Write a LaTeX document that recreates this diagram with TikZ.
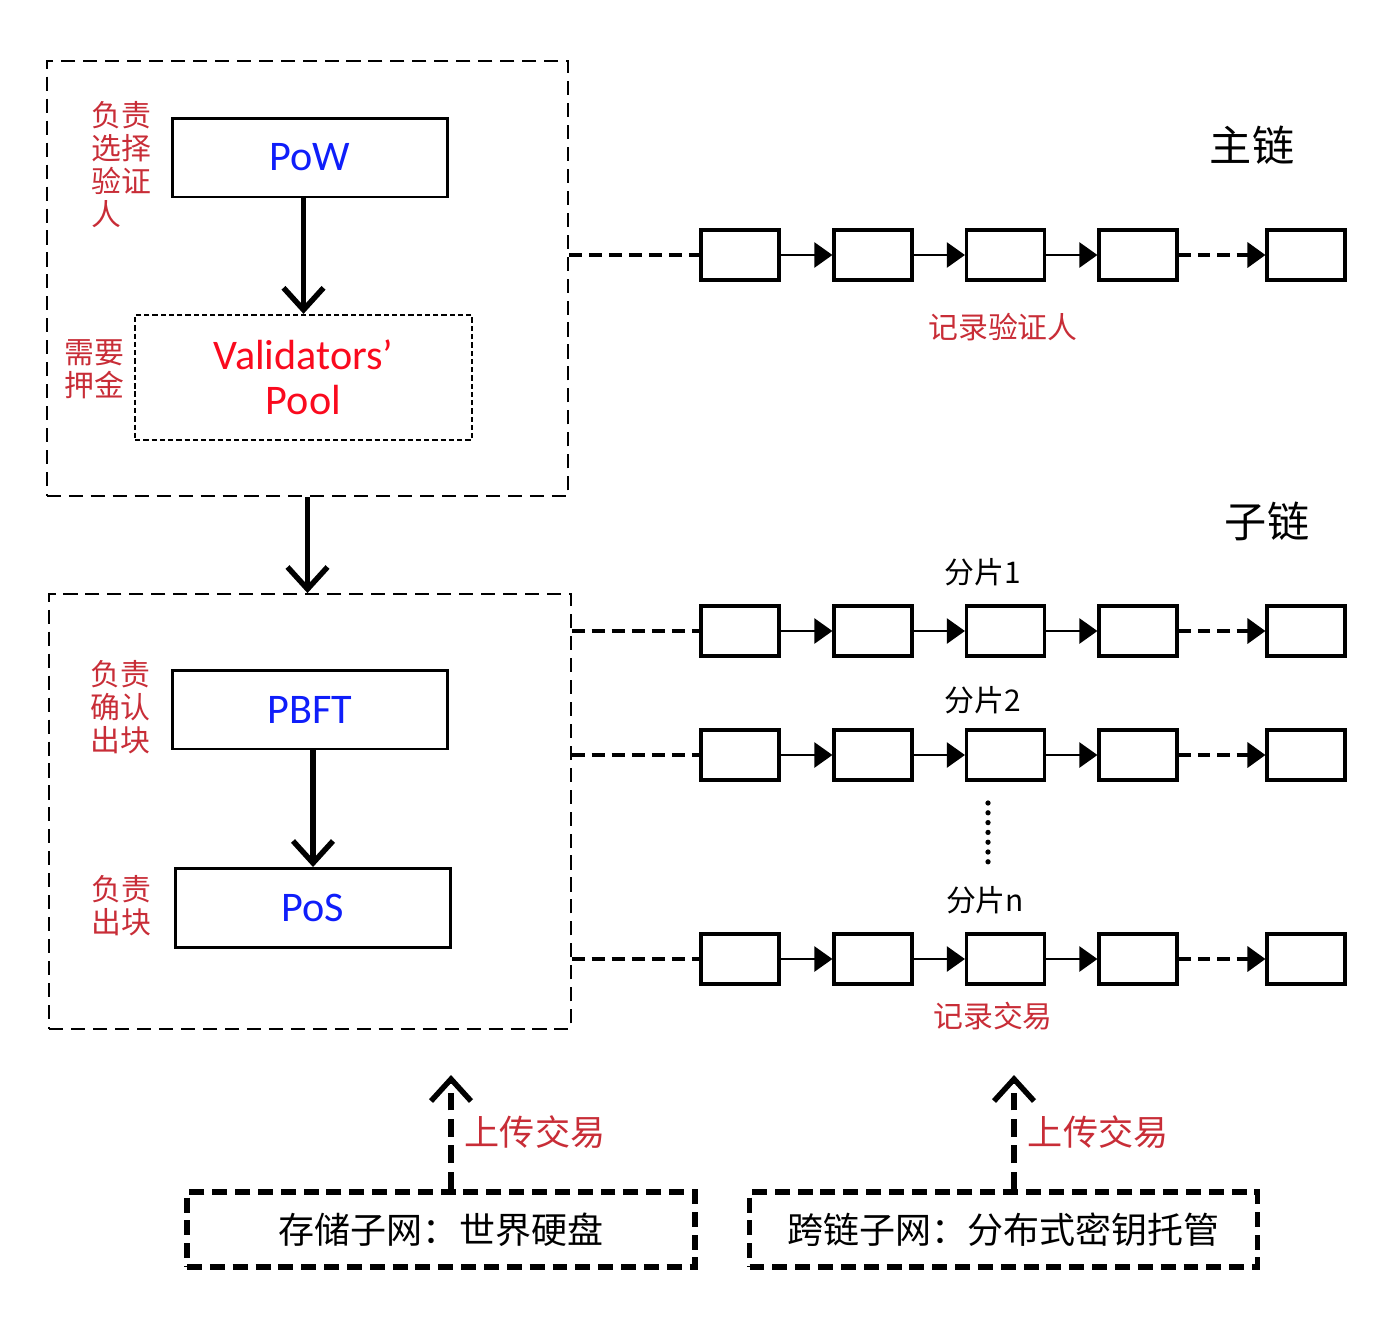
\documentclass[tikz,border=0pt]{standalone}
\usepackage{fontspec}
\setmainfont{Carlito}
\newfontfamily\cjk{Noto Sans CJK SC}
\usetikzlibrary{arrows.meta}
\definecolor{lblred}{RGB}{200,45,55}
\definecolor{poolred}{RGB}{250,10,30}
\definecolor{algblue}{RGB}{15,30,250}

\begin{document}
\begin{tikzpicture}[x=0.02cm,y=-0.02cm,
 grp/.style={draw,line width=1.1pt,dash pattern=on 8pt off 4.5pt,minimum width=10.43cm,minimum height=8.7cm,inner sep=0pt},
 algo/.style={draw,line width=1.7pt,minimum width=5.52cm,minimum height=1.58cm,text=algblue,font=\fontsize{24}{26}\selectfont},
 pool/.style={draw,line width=1.3pt,dash pattern=on 3pt off 1.7pt,minimum width=6.74cm,minimum height=2.5cm,
  text=poolred,align=center,font=\fontsize{24}{25.6}\selectfont},
 role/.style={text=lblred,align=left,inner sep=0pt,font=\cjk\fontsize{17}{18.8}\selectfont},
 blk/.style={draw,line width=1.8pt,minimum width=1.56cm,minimum height=1cm,inner sep=0pt},
 link/.style={-{Triangle[length=0.36cm,width=0.5cm]},line width=1.3pt},
 gap/.style={link,line width=2pt,dash pattern=on 7pt off 4pt},
 tie/.style={line width=2pt,dash pattern=on 7.4pt off 4pt},
 down/.style={-{Straight Barb[length=0.44cm,width=0.8cm]},line width=3.1pt},
 upload/.style={down,dash pattern=on 10pt off 5pt},
 net/.style={draw,line width=3pt,dash pattern=on 8.5pt off 4.5pt,minimum width=10.16cm,minimum height=1.5cm,
  font=\cjk\fontsize{20.5}{22}\selectfont},
 note/.style={text=lblred,font=\cjk\fontsize{20}{22}\selectfont},
 shard/.style={font=\cjk\fontsize{17}{19}\selectfont},
 chain/.style={font=\cjk\fontsize{24}{26}\selectfont}]
\useasboundingbox (0,0) rectangle (1398,1342);
% consensus layers on the left
\node[grp] (main) at (307.5,278.5) {};
\node[grp] (sub) at (310,811.5) {};
\node[algo] (pow) at (310,157.5) {PoW};
\node[pool] (pool) at (303.5,377.5) {Validators’\\Pool};
\node[algo] (pbft) at (310,709.5) {PBFT};
\node[algo] (pos) at (313,908) {PoS};
\node[role] (pick) at (121,165) {负责\\选择\\验证\\人};
\node[role] (stake) at (94,369) {需要\\押金};
\node[role] (confirm) at (120,707) {负责\\确认\\出块};
\node[role] (produce) at (121,906) {负责\\出块};
\draw[down] (pool.north |- pow.south) -- (pool.north);
\draw[down] (main.south) -- (main.south |- sub.north);
\draw[down] (pos.north |- pbft.south) -- (pos.north);

% main chain and shard chains
\node[chain] (mtitle) at (1252,145) {主链};
\node[chain] (stitle) at (1267,521) {子链};
\foreach \row/\y in {m/255,a/631,b/755,n/959}{
  \foreach \k/\x in {1/740,2/873,3/1005.5,4/1138,5/1306}
    \node[blk] (\row\k) at (\x,\y) {};
  \draw[link] (\row1) -- (\row2);
  \draw[link] (\row2) -- (\row3);
  \draw[link] (\row3) -- (\row4);
  \draw[gap] (\row4) -- (\row5);
}
\draw[tie] (main.east |- m1) -- (m1);
\foreach \row in {a,b,n}
  \draw[tie] (sub.east |- \row1) -- (\row1);
\node[role] (recval) at (1003,327) {记录验证人};
\node[shard] (s1) at (983,572) {分片1};
\node[shard] (s2) at (983,700) {分片2};
\node[shard] (sn) at (985,900) {分片n};
\node[role] (rectx) at (993,1016) {记录交易};
\foreach \k in {0,...,6}
  \fill (988,{803+\k*9.8}) circle (1.5pt);

% subnets feeding transactions
\node[net] (store) at (441,1229.5) {存储子网：世界硬盘};
\node[net] (cross) at (1003.5,1229.5) {跨链子网：分布式密钥托管};
\coordinate (up1) at (451,1075);
\coordinate (up2) at (1014,1075);
\draw[upload] (store.north -| up1) -- (up1) node[note,midway,right,xshift=3pt] {上传交易};
\draw[upload] (cross.north -| up2) -- (up2) node[note,midway,right,xshift=3pt] {上传交易};
\end{tikzpicture}
\end{document}
